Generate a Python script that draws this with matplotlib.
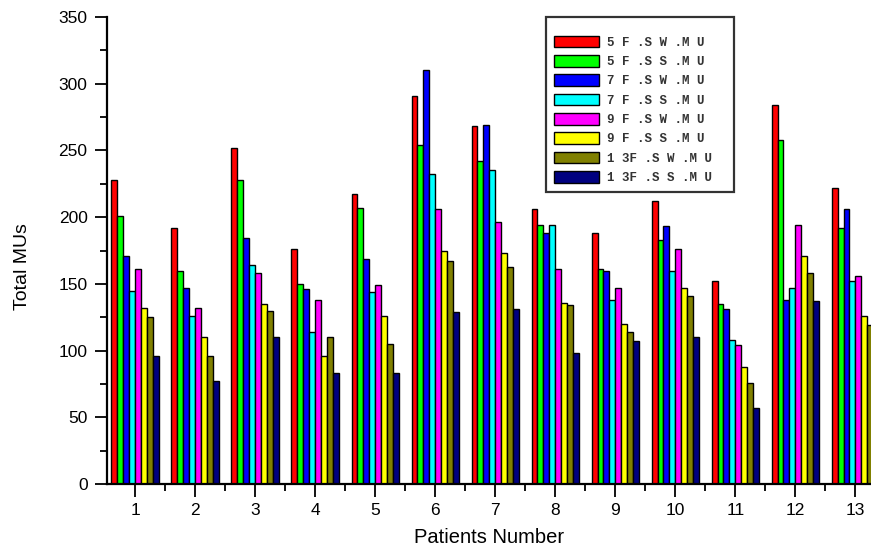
import numpy as np
import matplotlib.pyplot as plt
from matplotlib.ticker import MultipleLocator

patients = list(range(1, 14))
series_labels = ["5 F .S W .M U", "5 F .S S .M U", "7 F .S W .M U", "7 F .S S .M U",
                 "9 F .S W .M U", "9 F .S S .M U", "1 3F .S W .M U", "1 3F .S S .M U"]
colors = ["#ff0000", "#00ff00", "#0000ff", "#00ffff",
          "#ff00ff", "#ffff00", "#808000", "#000080"]

sw5 = [228, 192, 252, 176, 217, 291, 268, 206, 188, 212, 152, 284, 222]
ss5 = [201, 160, 228, 150, 207, 254, 242, 194, 161, 183, 135, 258, 192]
sw7 = [171, 147, 184, 146, 169, 310, 269, 188, 160, 193, 131, 138, 206]
ss7 = [145, 126, 164, 114, 144, 232, 235, 194, 138, 160, 108, 147, 152]
sw9 = [161, 132, 158, 138, 149, 206, 196, 161, 147, 176, 104, 194, 156]
ss9 = [132, 110, 135, 96, 126, 175, 173, 136, 120, 147, 88, 171, 126]
sw13 = [125, 96, 130, 110, 105, 167, 163, 134, 114, 141, 76, 158, 119]
ss13 = [96, 77, 110, 83, 83, 129, 131, 98, 107, 110, 57, 137, 90]

series = [sw5, ss5, sw7, ss7, sw9, ss9, sw13, ss13]

plt.rcParams["font.family"] = ["Liberation Sans", "DejaVu Sans"]

fig = plt.figure(figsize=(8.71, 5.51), dpi=100)
ax = fig.add_axes([107 / 871, 1 - 484 / 551, 1 - 107 / 871, (484 - 17) / 551])

x = np.array(patients, dtype=float)
w = 0.099
for i, (vals, col, lab) in enumerate(zip(series, colors, series_labels)):
    ax.bar(x + (i - 3.5) * w, vals, width=w, color=col, edgecolor="black",
           linewidth=1.0, label=lab)

ax.set_xlim(0.53, 13.26)
ax.set_ylim(0, 350)
ax.set_xticks(patients)
ax.xaxis.set_minor_locator(MultipleLocator(0.5))
ax.yaxis.set_major_locator(MultipleLocator(50))
ax.yaxis.set_minor_locator(MultipleLocator(25))
ax.tick_params(axis="both", which="major", direction="out", length=9, width=1.3,
               labelsize=12.5, pad=5)
ax.tick_params(axis="both", which="minor", direction="out", length=5, width=1.3)
for s in ["top", "right"]:
    ax.spines[s].set_visible(False)
for s in ["left", "bottom"]:
    ax.spines[s].set_linewidth(1.6)

ax.set_xlabel("Patients Number", fontsize=14.5, labelpad=7)
ax.set_ylabel("Total MUs", fontsize=14)
ax.yaxis.set_label_coords(-0.099, 0.465)

leg = ax.legend(loc="upper left", bbox_to_anchor=((546 - 107) / 764, 1.0),
                prop={"family": "Liberation Mono", "size": 9, "weight": "bold"},
                title=" ", title_fontsize=4,
                frameon=True, fancybox=False, shadow=False,
                handlelength=3.6, handleheight=1.05, labelspacing=0.5,
                borderpad=0.6, handletextpad=0.65, borderaxespad=0)
leg.get_frame().set_edgecolor("black")
leg.get_frame().set_linewidth(1.6)
for t in leg.get_texts():
    t.set_color("#333333")
    t.set_text(t.get_text() + "  ")

fig.savefig("out.png", dpi=100)
